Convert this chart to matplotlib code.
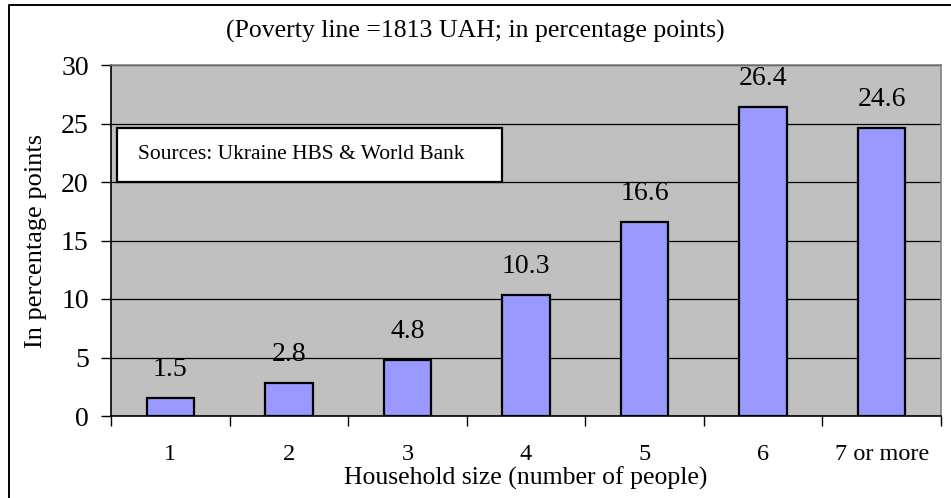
import matplotlib
matplotlib.use("Agg")
import matplotlib.pyplot as plt
from matplotlib.patches import Rectangle
from matplotlib.lines import Line2D

categories = ["1", "2", "3", "4", "5", "6", "7 or more"]
values = [1.5, 2.8, 4.8, 10.3, 16.6, 26.4, 24.6]
value_labels = ["1.5", "2.8", "4.8", "10.3", "16.6", "26.4", "24.6"]
yticks = [0, 5, 10, 15, 20, 25, 30]

plt.rcParams['font.family'] = ['Liberation Serif', 'DejaVu Serif']

W, H = 951, 498
fig = plt.figure(figsize=(W / 100, H / 100), dpi=100)
fig.patch.set_facecolor('white')
# outer border (left and top edges visible; the rest is cropped)
fig.add_artist(Line2D([8.5 / W, 8.5 / W, 1.0], [0.0, 1 - 5 / H, 1 - 5 / H],
                      transform=fig.transFigure, color='black', linewidth=1.4))

ax = fig.add_axes([111 / W, 1 - 416 / H, (941 - 111) / W, (416 - 65) / H])
ax.set_facecolor('#c0c0c0')
x = list(range(len(categories)))
ax.bar(x, values, width=0.4, color='#9999ff', edgecolor='black', linewidth=1.6, zorder=3)
for xi, v, lab in zip(x, values, value_labels):
    ax.text(xi, v + 1.9, lab, ha='center', va='baseline', fontsize=20, zorder=4)

ax.set_xlim(-0.5, len(categories) - 0.5)
ax.set_ylim(0, 30)
ax.set_yticks(yticks)
ax.set_yticklabels([str(t) for t in yticks], fontsize=20)
ax.yaxis.grid(True, color='black', linewidth=0.9, zorder=0)
ax.set_axisbelow(True)
ax.set_xticks([i + 0.5 for i in range(-1, len(categories))])
ax.set_xticklabels([])
ax.set_xticks(x, minor=True)
ax.set_xticklabels(categories, minor=True, fontsize=17.5)
ax.tick_params(axis='x', which='major', length=7, width=1, direction='out')
ax.tick_params(axis='x', which='minor', length=0, pad=20)
ax.tick_params(axis='y', length=7, width=1, direction='out', pad=9)

for s in ['top', 'right']:
    ax.spines[s].set_color('#808080')
    ax.spines[s].set_linewidth(1.2)
for s in ['left', 'bottom']:
    ax.spines[s].set_color('black')
    ax.spines[s].set_linewidth(1.2)

ax.set_xlabel("Household size (number of people)", fontsize=18.5, labelpad=1)
ax.set_ylabel("In percentage points", fontsize=19, labelpad=10)

fig.text(0.5, 1 - 31 / H, "(Poverty line =1813 UAH; in percentage points)",
         ha='center', va='center', fontsize=18.5)

# sources box
ax.add_patch(Rectangle(((117 - 111) / 830, (416 - 182) / 351), (502 - 117) / 830, (182 - 128) / 351,
                       transform=ax.transAxes, facecolor='white', edgecolor='black',
                       linewidth=1.6, zorder=5))
ax.text((138 - 111) / 830, (416 - 154) / 351, "Sources: Ukraine HBS & World Bank",
        transform=ax.transAxes, ha='left', va='center', fontsize=15.5, zorder=6)

fig.savefig("out.png", dpi=100)
